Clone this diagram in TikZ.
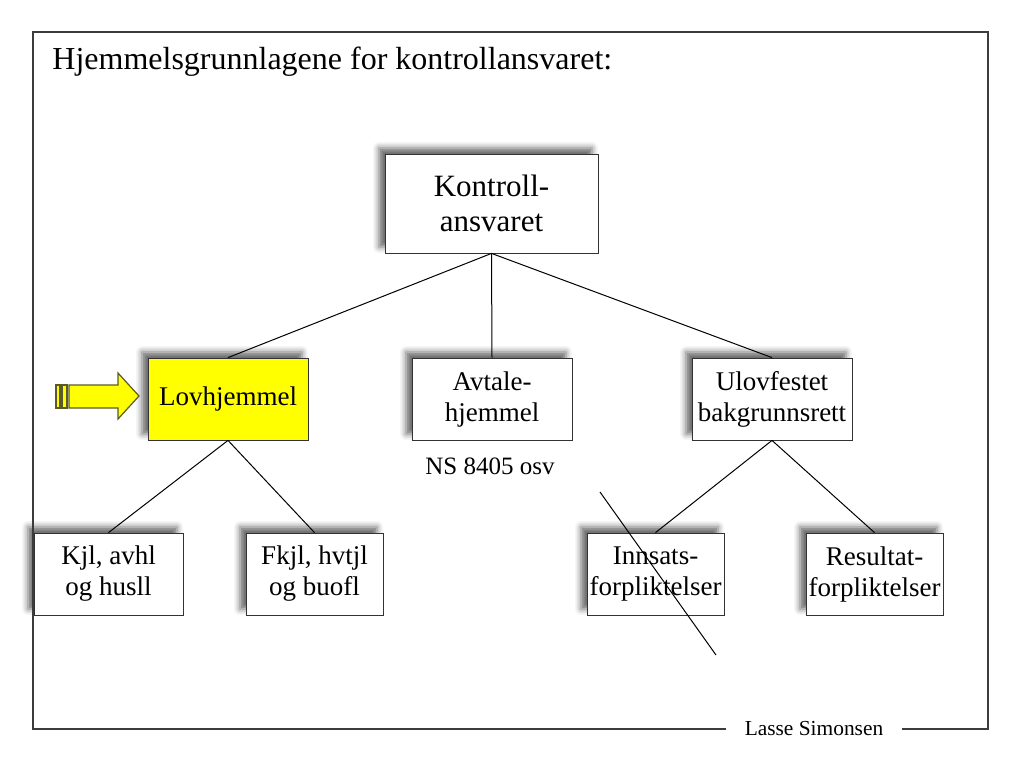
\documentclass[tikz,border=0pt]{standalone}
\usepackage{fontspec}
\setmainfont{Liberation Serif}
\usepackage{tikz}
\usetikzlibrary{
arrows.meta,
positioning,
shadows.blur
}
\definecolor{hjframe}{RGB}{60,60,60}
\definecolor{hjyellow}{RGB}{255,255,0}
\definecolor{hjedge}{RGB}{90,90,40}

\begin{document}
\begin{tikzpicture}[
  x=0.5pt, y=-0.5pt,
  every node/.style={font=\fontsize{13.5}{15.5}\selectfont},
  hjbox/.style={draw=black!80, fill=white, align=center, inner sep=0pt,
    minimum height=41pt,
    blur shadow={shadow xshift=-3pt, shadow yshift=3pt,
      shadow blur radius=3pt, shadow opacity=60}},
  hjline/.style={black, line width=0.5pt}
]
\useasboundingbox (0,0) rectangle (1023,762);

%% Title
\node[font=\fontsize{16}{19}\selectfont, anchor=west, inner sep=0pt]
  (title) at (52,62) {Hjemmelsgrunnlagene for kontrollansvaret:};

%% ── TREE ─────────────────────────────────────────────
\node[hjbox, minimum width=106.5pt, minimum height=49.5pt,
      font=\fontsize{15.5}{17.5}\selectfont] (kontroll) at (491.5,203.5)
  {Kontroll-\\ansvaret};

\node[hjbox, minimum width=80pt, fill=hjyellow] (lov) at (228,399)
  {Lovhjemmel};
\node[hjbox, minimum width=80pt] (avtale) at (492,399)
  {Avtale-\\hjemmel};
\node[hjbox, minimum width=80pt] (ulov) at (772,399)
  {Ulovfestet\\bakgrunnsrett};

\node[font=\fontsize{12.5}{15}\selectfont] (ns) at (490,466) {NS 8405 osv};

\node[hjbox, minimum width=74.5pt] (kjl) at (108.5,574)
  {Kjl, avhl\\og husll};
\node[hjbox, minimum width=68.5pt] (fkjl) at (314.5,574)
  {Fkjl, hvtjl\\og buofl};
\node[hjbox, minimum width=68.5pt] (innsats) at (655.5,574)
  {Innsats-\\forpliktelser};
\node[hjbox, minimum width=68.5pt] (resultat) at (874.5,574)
  {Resultat-\\forpliktelser};

%% Connectors
\foreach \n in {lov, avtale, ulov}
  \draw[hjline] (kontroll.south) -- (\n.north);
\foreach \n in {kjl, fkjl}
  \draw[hjline] (lov.south) -- (\n.north);
\foreach \n in {innsats, resultat}
  \draw[hjline] (ulov.south) -- (\n.north);

%% Strike-through
\coordinate (cross1) at (600,492);
\coordinate (cross2) at (716,655);
\draw[hjline] (cross1) -- (cross2);

%% Pointer arrow
\draw[hjedge, fill=hjyellow, line width=0.6pt]
  (69,385) -- (118,385) -- (118,373) -- (139,396) -- (118,419)
  -- (118,408) -- (69,408) -- cycle;
\draw[hjedge, fill=hjyellow, line width=0.6pt] (56,385) rectangle (60,408);
\draw[hjedge, fill=hjyellow, line width=0.6pt] (62,385) rectangle (67,408);

%% Frame
\node[font=\fontsize{10.7}{13}\selectfont] (sig) at (814,729) {Lasse Simonsen};
\draw[hjframe, line width=0.6pt]
  (sig.west) ++(-12,0) -- (33,729) -- (33,32) -- (988,32) -- (988,729)
  -- ([xshift=6pt]sig.east);

\end{tikzpicture}
\end{document}
